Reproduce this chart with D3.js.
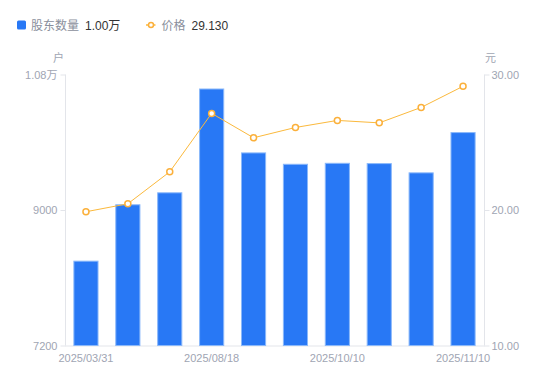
<!DOCTYPE html>
<html lang="zh">
<head>
  <meta charset="UTF-8">
  <title>股东数量与价格</title>
  <style>
    body { margin: 0; background: #fff; }
    #chart { width: 550px; height: 381px; }
    text { font-family: "Liberation Sans", Arial, "Noto Sans CJK SC", sans-serif; }
  </style>
</head>
<body>
  <div id="chart"></div>

  <script src="https://d3js.org/d3.v7.min.js"></script>
  <script>
    // 数据（中间期的日期在图上没有显示，只留空）
    const dateLabels = ["2025/03/31", "", "", "2025/08/18", "", "", "2025/10/10", "", "", "2025/11/10"];
    const holders = [8327, 9076, 9235, 10614, 9765, 9614, 9627, 9623, 9500, 10035];
    const prices = [19.87, 20.46, 22.82, 27.13, 25.33, 26.09, 26.61, 26.43, 27.57, 29.13];
    const leftTicks = [7200, 9000, 10800];
    const rightTicks = [10, 20, 30];

    const W = 550, H = 381;
    const pLeft = 65, pRight = 484, pTop = 74.5, pBottom = 345.5;

    const svg = d3.select("#chart").append("svg")
      .attr("width", W).attr("height", H);

    const idx = d3.range(dateLabels.length);
    const x = d3.scaleBand().domain(idx).range([pLeft, pRight])
      .paddingInner(0.4).paddingOuter(0.2);
    const yL = d3.scaleLinear().domain([7200, 10800]).range([pBottom, pTop]);
    const yR = d3.scaleLinear().domain([10, 30]).range([pBottom, pTop]);
    const cx = i => x(i) + x.bandwidth() / 2;

    const grey = "#a0a5b3";
    const axisColor = "#e3e5ea";

    const fmtL = v => v >= 10000 ? (v / 10000).toFixed(2) + "万" : String(v);

    // 左轴 / 右轴
    const axL = svg.append("g").attr("transform", `translate(${pLeft + 0.5},0)`)
      .call(d3.axisLeft(yL).tickValues(leftTicks).tickFormat(fmtL).tickSize(5).tickPadding(3));
    const axR = svg.append("g").attr("transform", `translate(${pRight + 0.5},0)`)
      .call(d3.axisRight(yR).tickValues(rightTicks).tickFormat(d3.format(".2f")).tickSize(5).tickPadding(2));
    [axL, axR].forEach(g => {
      g.select(".domain").remove();
      g.selectAll(".tick line").attr("stroke", axisColor);
      g.selectAll(".tick text").attr("fill", grey).attr("font-size", 11);
    });
    svg.append("line").attr("x1", pLeft + 0.5).attr("x2", pLeft + 0.5)
      .attr("y1", pTop).attr("y2", pBottom).attr("stroke", axisColor);
    svg.append("line").attr("x1", pRight + 0.5).attr("x2", pRight + 0.5)
      .attr("y1", pTop).attr("y2", pBottom).attr("stroke", axisColor);

    // x 轴
    svg.append("line").attr("x1", pLeft).attr("x2", pRight + 1)
      .attr("y1", pBottom + 0.5).attr("y2", pBottom + 0.5).attr("stroke", axisColor);
    svg.append("g").selectAll("text")
      .data(idx.filter(i => dateLabels[i]))
      .join("text")
      .attr("x", cx)
      .attr("y", 362)
      .attr("text-anchor", "middle")
      .attr("font-size", 11)
      .attr("fill", grey)
      .text(i => dateLabels[i]);

    // 单位
    svg.append("text").attr("x", pLeft - 1).attr("y", 62).attr("text-anchor", "end")
      .attr("font-size", 11).attr("fill", grey).text("户");
    svg.append("text").attr("x", pRight + 1).attr("y", 62).attr("text-anchor", "start")
      .attr("font-size", 11).attr("fill", grey).text("元");

    // 柱子
    svg.append("g").selectAll("rect")
      .data(holders)
      .join("rect")
      .attr("x", (d, i) => x(i) + 0.5)
      .attr("y", d => yL(d) + 0.5)
      .attr("width", x.bandwidth() - 1)
      .attr("height", d => pBottom - yL(d) - 0.5)
      .attr("fill", "#2878f5")
      .attr("stroke", "#8ab8fa")
      .attr("stroke-width", 1);

    // 价格折线
    const line = d3.line()
      .x((d, i) => cx(i))
      .y(d => yR(d));
    svg.append("path").datum(prices)
      .attr("d", line)
      .attr("fill", "none")
      .attr("stroke", "#fbb93c")
      .attr("stroke-width", 1);
    svg.append("g").selectAll("circle")
      .data(prices)
      .join("circle")
      .attr("cx", (d, i) => cx(i))
      .attr("cy", d => yR(d))
      .attr("r", 3)
      .attr("fill", "#fff")
      .attr("stroke", "#fbb03b")
      .attr("stroke-width", 1.5);

    // 图例
    const lg = svg.append("g");
    lg.append("rect").attr("x", 17).attr("y", 20.5).attr("width", 9).attr("height", 9)
      .attr("rx", 1.5).attr("fill", "#2878f5");
    lg.append("text").attr("x", 31).attr("y", 29.5).attr("font-size", 12)
      .attr("fill", "#8a8f9c").text("股东数量");
    lg.append("text").attr("x", 85).attr("y", 29.5).attr("font-size", 12)
      .attr("fill", "#333").text((holders[holders.length - 1] / 10000).toFixed(2) + "万");

    lg.append("line").attr("x1", 146).attr("x2", 155.5).attr("y1", 25).attr("y2", 25)
      .attr("stroke", "#fbb93c").attr("stroke-width", 1.5);
    lg.append("circle").attr("cx", 151).attr("cy", 25).attr("r", 2.5)
      .attr("fill", "#fff").attr("stroke", "#fbb03b").attr("stroke-width", 1.5);
    lg.append("text").attr("x", 161.5).attr("y", 29.5).attr("font-size", 12)
      .attr("fill", "#8a8f9c").text("价格");
    lg.append("text").attr("x", 191.5).attr("y", 29.5).attr("font-size", 12)
      .attr("fill", "#333").text(prices[prices.length - 1].toFixed(3));
  </script>
</body>
</html>
